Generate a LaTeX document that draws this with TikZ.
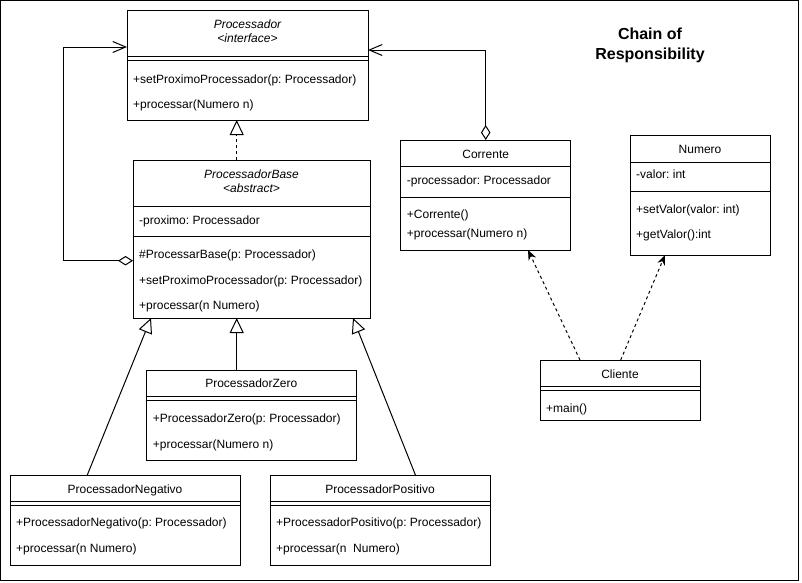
\documentclass[tikz,border=0pt]{standalone}
\usepackage{fontspec}
\setmainfont{Liberation Sans}
\usetikzlibrary{arrows.meta}
\frenchspacing
\begin{document}
\frenchspacing
\begin{tikzpicture}[x=1pt,y=-1pt,
  box/.style={draw,line width=1pt,anchor=north west,inner sep=0pt,outer sep=0pt},
  lbl/.style={anchor=west,inner sep=0pt,yshift=-1.5pt,font=\fontsize{12}{14}\selectfont,text height=8.6pt,text depth=2.5pt},
  ttl/.style={anchor=center,inner sep=0pt,yshift=-1.5pt,font=\fontsize{12}{14}\selectfont,text height=8.6pt,text depth=2.5pt},
  ttli/.style={anchor=center,inner sep=0pt,yshift=-1.5pt,font=\fontsize{12}{14}\selectfont\itshape,text height=8.6pt,text depth=2.5pt},
  sep/.style={line width=1pt},
  gen/.style={line width=1pt,-{Triangle[open,length=15pt,width=14pt,line width=1pt]}},
  real/.style={line width=1pt,dash pattern=on 3pt off 3pt,-{Triangle[open,length=15pt,width=14pt,line width=1pt]}},
  agg/.style={line width=1pt,{Diamond[open,length=15pt,width=9.5pt,line width=1pt]}-{Straight Barb[length=13pt,width=11pt,line width=1pt]}},
  dep/.style={line width=1pt,dash pattern=on 3pt off 3pt,-{Stealth[length=10pt,width=8pt]}}
]
\useasboundingbox (0,0) rectangle (802,582);
\node[box,minimum width=797.5pt,minimum height=579.5pt] (frame) at (0.5,0.5) {};

% Title
\node[align=center,font=\fontsize{16}{20}\selectfont\bfseries,inner sep=0pt] (title) at (650,45) {Chain of\\Responsibility};

% Processador
\node[box,minimum width=241pt,minimum height=110pt] (proc) at (127,10) {};
\draw[sep] (127,56.7) -- (368,56.7) (127,60.3) -- (368,60.3);
\node[ttli] (procT1) at (247.5,24) {Processador};
\node[ttli] (procT2) at (247.5,38) {<interface>};
\node[lbl] (procM1) at (133,79) {+setProximoProcessador(p: Processador)};
\node[lbl] (procM2) at (133,104) {+processar(Numero n)};

% ProcessadorBase
\node[box,minimum width=237pt,minimum height=158pt] (pb) at (133,160) {};
\draw[sep] (133,206) -- (370,206) (133,236.7) -- (370,236.7);
\node[ttli] (pbT1) at (251.5,174) {ProcessadorBase};
\node[ttli] (pbT2) at (251.5,188) {<abstract>};
\node[lbl] (pbA1) at (139,220) {-proximo: Processador};
\node[lbl] (pbM1) at (139,254) {\#ProcessarBase(p: Processador)};
\node[lbl] (pbM2) at (139,280) {+setProximoProcessador(p: Processador)};
\node[lbl] (pbM3) at (139,305) {+processar(n Numero)};

% Corrente
\node[box,minimum width=170pt,minimum height=110pt] (cor) at (400.7,140) {};
\draw[sep] (400.7,166) -- (570.7,166) (400.7,197) -- (570.7,197);
\node[ttl] (corT) at (485.7,154) {Corrente};
\node[lbl] (corA1) at (406.7,180) {-processador: Processador};
\node[lbl] (corM1) at (406.7,214) {+Corrente()};
\node[lbl] (corM2) at (406.7,233) {+processar(Numero n)};

% Numero
\node[box,minimum width=140pt,minimum height=120pt] (num) at (630,135) {};
\draw[sep] (630,162) -- (770,162) (630,191) -- (770,191);
\node[ttl] (numT) at (700,149) {Numero};
\node[lbl] (numA1) at (636,174) {-valor: int};
\node[lbl] (numM1) at (636,209) {+setValor(valor: int)};
\node[lbl] (numM2) at (636,234) {+getValor():int};

% Cliente
\node[box,minimum width=160pt,minimum height=60pt] (cli) at (540,360) {};
\draw[sep] (540,386) -- (700,386) (540,390) -- (700,390);
\node[ttl] (cliT) at (620,373.5) {Cliente};
\node[lbl] (cliM1) at (546,408) {+main()};

% ProcessadorZero
\node[box,minimum width=209.3pt,minimum height=90pt] (zer) at (146.7,370) {};
\draw[sep] (146.7,396.7) -- (356,396.7) (146.7,400) -- (356,400);
\node[ttl] (zerT) at (251.3,383.3) {ProcessadorZero};
\node[lbl] (zerM1) at (152.7,417.7) {+ProcessadorZero(p: Processador)};
\node[lbl] (zerM2) at (152.7,444) {+processar(Numero n)};

% ProcessadorNegativo
\node[box,minimum width=230pt,minimum height=89.3pt] (neg) at (10,475.7) {};
\draw[sep] (10,501) -- (240,501) (10,505) -- (240,505);
\node[ttl] (negT) at (125,488.7) {ProcessadorNegativo};
\node[lbl] (negM1) at (16,522.3) {+ProcessadorNegativo(p: Processador)};
\node[lbl] (negM2) at (16,548.3) {+processar(n Numero)};

% ProcessadorPositivo
\node[box,minimum width=220pt,minimum height=89.3pt] (pos) at (270,475.7) {};
\draw[sep] (270,501) -- (490,501) (270,505) -- (490,505);
\node[ttl] (posT) at (380,488.7) {ProcessadorPositivo};
\node[lbl] (posM1) at (276,522.3) {+ProcessadorPositivo(p: Processador)};
\node[lbl] (posM2) at (276,548.3) {+processar(n\ \ Numero)};

% Connectors
\coordinate (aggA) at (63,260.7);
\coordinate (aggB) at (63,47);
\draw[agg] (pb.west |- aggA) -- (aggA) -- (aggB) -- (proc.west |- aggB);
\coordinate (aggC) at (485.7,50);
\draw[agg] (cor.north) -- (aggC) -- (proc.east |- aggC);

\coordinate (rx) at (236.7,0);
\draw[real] (pb.north -| rx) -- (proc.south -| rx);
\draw[gen] (zer.north -| rx) -- (pb.south -| rx);
\coordinate (negx) at (87,0);
\coordinate (pbl) at (151,0);
\draw[gen] (neg.north -| negx) -- (pb.south -| pbl);
\coordinate (posx) at (415.7,0);
\coordinate (pbr) at (353,0);
\draw[gen] (pos.north -| posx) -- (pb.south -| pbr);

\coordinate (c1) at (580,0);
\coordinate (c2) at (528,0);
\draw[dep] (cli.north -| c1) -- (cor.south -| c2);
\coordinate (c3) at (620.7,0);
\coordinate (c4) at (665,0);
\draw[dep] (cli.north -| c3) -- (num.south -| c4);
\end{tikzpicture}
\end{document}
